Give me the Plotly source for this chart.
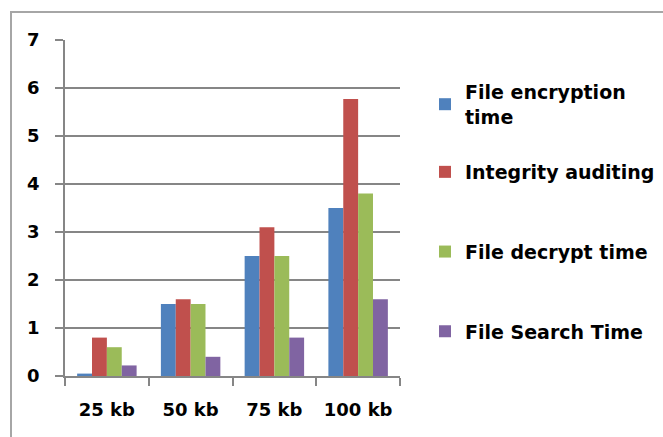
import plotly.graph_objects as go

categories = ["25 kb", "50 kb", "75 kb", "100 kb"]
series_names = ["File encryption<br>time", "Integrity auditing", "File decrypt time", "File Search Time"]
encryption = [0.05, 1.5, 2.5, 3.5]
integrity = [0.8, 1.6, 3.1, 5.77]
decrypt = [0.6, 1.5, 2.5, 3.8]
search = [0.22, 0.4, 0.8, 1.6]
colors = ["#4F81BD", "#C0504D", "#9BBB59", "#8064A2"]
y_ticks = [0, 1, 2, 3, 4, 5, 6, 7]

FONT = "DejaVu Sans"
LEG_FONT = dict(family=FONT, size=19, color="black", weight="bold")
AX_FONT = dict(family=FONT, size=18, color="black", weight="bold")

fig = go.Figure()
for i, (name, vals) in enumerate(zip(series_names, [encryption, integrity, decrypt, search])):
    fig.add_trace(go.Bar(x=categories, y=vals, name=name, showlegend=True,
                         marker=dict(color=colors[i], line=dict(width=0)),
                         legendgroup=f"g{i}",
                         legend="legend" if i == 0 else "legend2"))

L, R, T, B = 65, 400, 40, 376
W, H = 663, 437
def px(x):
    return (x - L) / (R - L)
def py(y):
    return (B - y) / (B - T)

fig.update_layout(
    width=W, height=H,
    margin=dict(l=L, r=W - R, t=T, b=H - B, autoexpand=False),
    showlegend=True,
    paper_bgcolor="white", plot_bgcolor="white",
    barmode="group", bargap=0.29, bargroupgap=0,
    font=dict(family=FONT, size=18, color="black", weight="bold"),
    legend=dict(x=px(425), y=py(73), xanchor="left", yanchor="top", visible=True,
                font=LEG_FONT, itemwidth=30, bgcolor="rgba(0,0,0,0)"),
    legend2=dict(x=px(425), y=py(153), xanchor="left", yanchor="top", visible=True,
                 font=LEG_FONT, traceorder="grouped", tracegroupgap=52, itemwidth=30,
                 bgcolor="rgba(0,0,0,0)"),
    xaxis=dict(showline=True, linecolor="#868686", linewidth=1.5,
               ticks="outside", tickson="boundaries", ticklen=8, tickcolor="#868686", tickwidth=1.5,
               ticklabelstandoff=17, tickfont=AX_FONT),
    yaxis=dict(range=[0, 7], tickvals=y_ticks, showgrid=True, gridcolor="#868686", gridwidth=1.5,
               showline=True, linecolor="#868686", linewidth=1.5, zeroline=False,
               ticks="outside", ticklen=8, tickcolor="#868686", tickwidth=1.5,
               ticklabelstandoff=12, tickfont=AX_FONT),
    shapes=[dict(type="rect", xref="paper", yref="paper",
                 x0=px(11), x1=px(680), y0=py(12), y1=py(460),
                 line=dict(color="#A6A6A6", width=2), fillcolor="rgba(0,0,0,0)", layer="below")],
)

fig.write_html("out.html")
